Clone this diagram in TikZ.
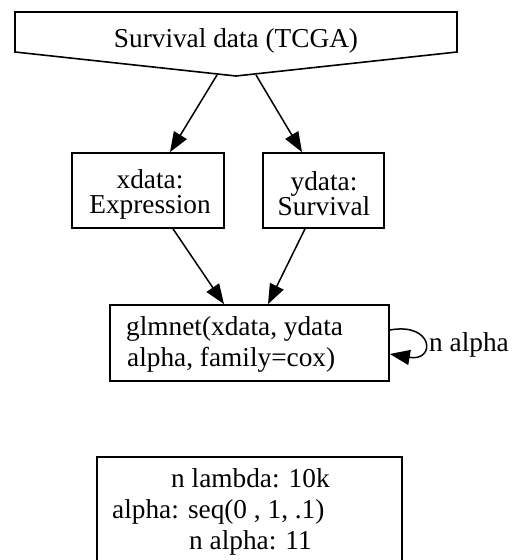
\documentclass[tikz,border=0pt]{standalone}
\usepackage{fontspec}
\setmainfont{Liberation Serif}
\usetikzlibrary{arrows.meta,calc}
\begin{document}
\begin{tikzpicture}[x=1pt,y=-1pt,
  every node/.style={font=\fontsize{27.3}{25}\selectfont},
  box/.style={draw,line width=1.7pt,rectangle,inner sep=0pt},
  txt/.style={inner sep=0pt,align=center},
  lbl/.style={anchor=base west,inner sep=0pt},
  arr/.style={line width=1.5pt,-{Triangle[length=20pt,width=15pt]}}]
  \useasboundingbox (0,0) rectangle (514,560);
  \fill[white] (0,0) rectangle (514,560);

  % input source: pentagon pointing down
  \draw[line width=1.6pt,line join=miter] (15,12) -- (457,12) -- (457,52) -- (236,76) -- (15,52) -- cycle;
  \node[anchor=base,inner sep=0pt] (src) at (236,47) {Survival data (TCGA)};
  \coordinate (srcL) at (217,75);
  \coordinate (srcR) at (256,75);

  % data nodes
  \node[box,minimum width=152pt,minimum height=75pt] (xdata) at (148,190.5) {};
  \node[txt] (xtxt) at (150,194) {xdata:\\Expression};
  \node[box,minimum width=121pt,minimum height=75pt] (ydata) at (323.5,190.5) {};
  \node[txt] (ytxt) at (324,194) {ydata:\\Survival};

  % model fit
  \node[box,minimum width=279pt,minimum height=76pt] (fit) at (249.5,343) {};
  \node[lbl] (fit1) at (126,335) {glmnet(xdata, ydata};
  \node[lbl] (fit2) at (127,366) {alpha, family=cox)};

  % parameter note (runs off the bottom edge)
  \node[box,minimum width=305pt,minimum height=110pt] (params) at (249.5,512) {};
  \node[lbl] (p1) at (171,487) {n lambda: 10k};
  \node[lbl] (p2) at (112,518) {alpha: seq(0 , 1, .1)};
  \node[lbl] (p3) at (189,549) {n alpha: 11};

  % connectors
  \draw[arr] (srcL) -- ([xshift=22pt]xdata.north);
  \draw[arr] (srcR) -- ([xshift=-21.5pt]ydata.north);
  \draw[arr] ([xshift=25pt]xdata.south) -- ([xshift=-25.5pt]fit.north);
  \draw[arr] ([xshift=-18.5pt]ydata.south) -- ([xshift=18.5pt]fit.north);

  % self loop over alpha values
  \draw[arr] ([yshift=13pt]fit.east) .. controls (434,322) and (436,362) .. ([yshift=-11pt]fit.east);
  \node[lbl] (loop) at (429,351) {n alpha};
\end{tikzpicture}
\end{document}
